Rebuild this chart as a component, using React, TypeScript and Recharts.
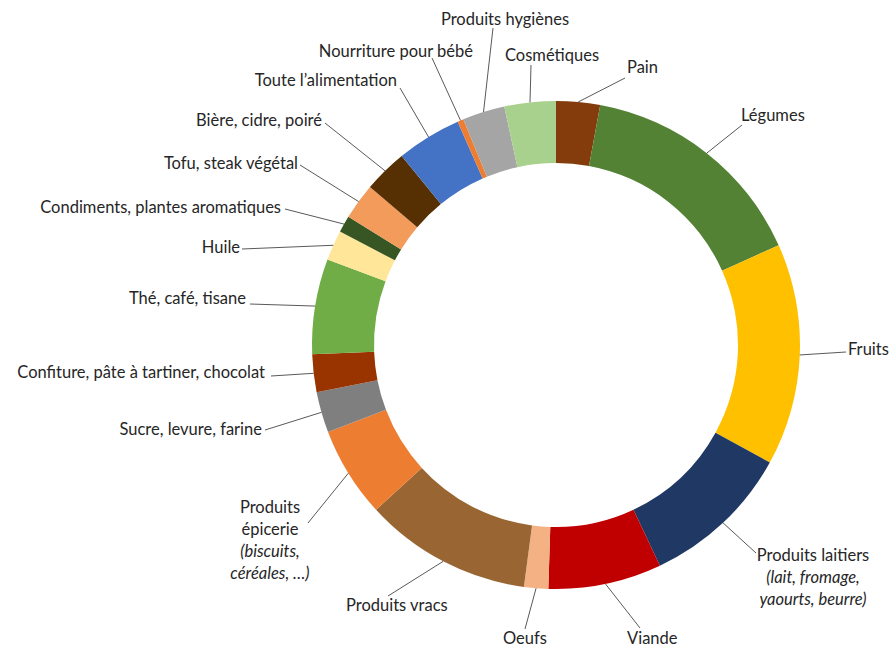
import { PieChart, Pie, Cell } from "recharts";

const categories = [
  "Pain",
  "Légumes",
  "Fruits",
  "Produits laitiers",
  "Viande",
  "Oeufs",
  "Produits vracs",
  "Produits épicerie",
  "Sucre, levure, farine",
  "Confiture, pâte à tartiner, chocolat",
  "Thé, café, tisane",
  "Huile",
  "Condiments, plantes aromatiques",
  "Tofu, steak végétal",
  "Bière, cidre, poiré",
  "Toute l’alimentation",
  "Nourriture pour bébé",
  "Produits hygiènes",
  "Cosmétiques",
];

// share of answers, in %
const shares = [
  2.9, 15.4, 14.7, 10.0, 7.5, 1.6, 11.1, 6.0, 2.7, 2.5, 6.3, 2.0, 1.1, 2.4, 2.9,
  4.3, 0.4, 2.8, 3.4,
];

// extra label lines (italic), shown under the category name
const subLines: Record<number, string[]> = {
  3: ["(lait, fromage,", "yaourts, beurre)"],
};

const COLORS = [
  "#843C0C", // pain
  "#548235", // légumes
  "#FFC000", // fruits
  "#203864", // laitiers
  "#C00000", // viande
  "#F4B183", // oeufs
  "#996633", // vracs
  "#ED7D31", // épicerie
  "#7F7F7F", // sucre
  "#993300", // confiture
  "#70AD47", // thé
  "#FFE699", // huile
  "#375623", // condiments
  "#F29B5B", // tofu
  "#563003", // bière
  "#4472C4", // toute l'alimentation
  "#ED7D31", // bébé
  "#A5A5A5", // hygiène
  "#A9D18E", // cosmétiques
];

// label placement: text anchor point + where the leader line stops
type LabelPos = {
  x: number;
  y: number;
  anchor: "start" | "middle" | "end";
  ex: number;
  ey: number;
  lines?: string[];
  italic?: string[];
};

const LABELS: LabelPos[] = [
  { x: 627, y: 67, anchor: "start", ex: 625, ey: 78 },
  { x: 741, y: 115, anchor: "start", ex: 742, ey: 125 },
  { x: 848, y: 349, anchor: "start", ex: 846, ey: 352 },
  { x: 813, y: 555, anchor: "middle", ex: 756, ey: 553 },
  { x: 627, y: 638, anchor: "start", ex: 640, ey: 628 },
  { x: 503, y: 638, anchor: "start", ex: 525, ey: 629 },
  { x: 346, y: 605, anchor: "start", ex: 388, ey: 596 },
  {
    x: 270,
    y: 507,
    anchor: "middle",
    ex: 308,
    ey: 523,
    lines: ["Produits", "épicerie"],
    italic: ["(biscuits,", "céréales, …)"],
  },
  { x: 262, y: 429, anchor: "end", ex: 265, ey: 430 },
  { x: 265, y: 372, anchor: "end", ex: 271, ey: 376 },
  { x: 246, y: 298, anchor: "end", ex: 250, ey: 304 },
  { x: 240, y: 247, anchor: "end", ex: 242, ey: 249 },
  { x: 281, y: 207, anchor: "end", ex: 285, ey: 209 },
  { x: 298, y: 163, anchor: "end", ex: 300, ey: 165 },
  { x: 322, y: 120, anchor: "end", ex: 325, ey: 123 },
  { x: 397, y: 80, anchor: "end", ex: 400, ey: 88 },
  { x: 473, y: 51, anchor: "end", ex: 432, ey: 58 },
  { x: 505, y: 19, anchor: "middle", ex: 493, ey: 28 },
  { x: 505, y: 55, anchor: "start", ex: 531, ey: 65 },
];

const data = categories.map((name, i) => ({ name, value: shares[i] }));

const RAD = Math.PI / 180;
const FONT = "Lato, 'Open Sans', sans-serif";
const LINE_H = 22;

function renderLabel(props: any) {
  const { cx, cy, midAngle, outerRadius, index } = props;
  const pos = LABELS[index];
  const sx = cx + outerRadius * Math.cos(-midAngle * RAD);
  const sy = cy + outerRadius * Math.sin(-midAngle * RAD);
  const main = pos.lines ?? [categories[index]];
  const italic = pos.italic ?? subLines[index] ?? [];

  return (
    <g key={`lbl-${index}`}>
      <line x1={sx} y1={sy} x2={pos.ex} y2={pos.ey} stroke="#595959" strokeWidth={1} />
      <text
        x={pos.x}
        y={pos.y}
        textAnchor={pos.anchor}
        dominantBaseline="central"
        fontFamily={FONT}
        fontSize={16.5}
        fill="#262626"
      >
        {main.map((t, k) => (
          <tspan key={k} x={pos.x} dy={k === 0 ? 0 : LINE_H}>
            {t}
          </tspan>
        ))}
        {italic.map((t, k) => (
          <tspan key={`i${k}`} x={pos.x} dy={LINE_H} fontStyle="italic">
            {t}
          </tspan>
        ))}
      </text>
    </g>
  );
}

export default function App() {
  return (
    <div style={{ position: "absolute", left: 0, top: 0, background: "#fff" }}>
      <PieChart width={891} height={648} margin={{ top: 0, right: 0, bottom: 0, left: 0 }}>
        <Pie
          data={data}
          dataKey="value"
          nameKey="name"
          cx={556}
          cy={345}
          innerRadius={182}
          outerRadius={244}
          startAngle={90}
          endAngle={-270}
          stroke="none"
          label={renderLabel}
          labelLine={false}
          isAnimationActive={false}
        >
          {data.map((d, i) => (
            <Cell key={d.name} fill={COLORS[i]} />
          ))}
        </Pie>
      </PieChart>
    </div>
  );
}
